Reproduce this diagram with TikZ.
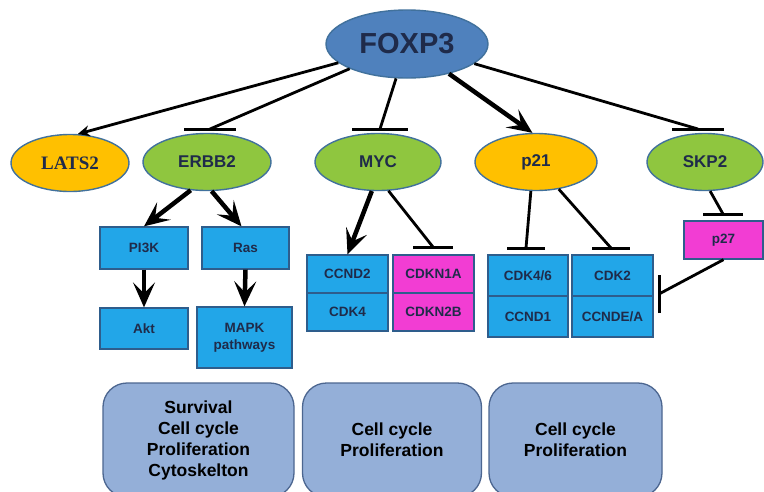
\documentclass[tikz,border=0pt]{standalone}
\usepackage{fontspec}
\setmainfont{Liberation Sans}
\newfontfamily\serifb{Liberation Serif}
\usetikzlibrary{arrows.meta,shapes.geometric}
\definecolor{foxblue}{HTML}{4F81BD}
\definecolor{ellborder}{HTML}{41719C}
\definecolor{leafgreen}{HTML}{8FC63F}
\definecolor{goldyel}{HTML}{FFC000}
\definecolor{boxblue}{HTML}{22A6E8}
\definecolor{boxborder}{HTML}{2E5D8C}
\definecolor{magent}{HTML}{F23DD3}
\definecolor{navytext}{HTML}{1F2B4A}
\definecolor{panelfill}{HTML}{94AFD8}
\definecolor{panelborder}{HTML}{4C6690}
\tikzset{
  ell/.style={ellipse, draw=ellborder, line width=1.4pt, inner sep=0pt, text=navytext},
  gene/.style={rectangle, draw=boxborder, line width=1.3pt, fill=boxblue, inner sep=1pt,
    text=navytext, font=\bfseries\fontsize{13.5}{17}\selectfont, align=center},
  panel/.style={rectangle, rounded corners=24pt, draw=panelborder, line width=1.3pt,
    fill=panelfill, text=black, font=\bfseries\fontsize{17.5}{21}\selectfont, align=center,
    minimum height=114pt},
  conn/.style={line width=2.8pt, black},
  thickarr/.style={line width=4.5pt, black, -{Stealth[length=25pt,width=22pt,inset=11pt]}},
  tbar/.style={line width=3pt, black},
}
\begin{document}
\begin{tikzpicture}[x=1pt,y=-1pt]
\useasboundingbox (0,0) rectangle (764,491);
\fill[white] (0,0) rectangle (764,491);
\clip (0,0) rectangle (764,491);

% top level
\node[ell, fill=foxblue, minimum width=162pt, minimum height=68pt,
      font=\bfseries\fontsize{29}{31}\selectfont] (foxp3) at (407,44) {FOXP3};
\node[ell, fill=goldyel, minimum width=118pt, minimum height=57pt,
      font=\serifb\bfseries\fontsize{19}{21}\selectfont] (lats2) at (70,163) {LATS2};
\node[ell, fill=leafgreen, minimum width=128pt, minimum height=57pt,
      font=\bfseries\fontsize{17}{19}\selectfont] (erbb2) at (207,162) {ERBB2};
\node[ell, fill=leafgreen, minimum width=126pt, minimum height=57pt,
      font=\bfseries\fontsize{17}{19}\selectfont] (myc) at (378,162) {MYC};
\node[ell, fill=goldyel, minimum width=122pt, minimum height=57pt,
      font=\bfseries\fontsize{17}{19}\selectfont] (p21) at (536,162) {p21};
\node[ell, fill=leafgreen, minimum width=116pt, minimum height=57pt,
      font=\bfseries\fontsize{17}{19}\selectfont] (skp2) at (705,162) {SKP2};

% gene boxes
\node[gene, minimum width=88pt, minimum height=42pt] (pi3k) at (144,248) {PI3K};
\node[gene, minimum width=87pt, minimum height=42pt] (ras) at (245.5,248) {Ras};
\node[gene, minimum width=88pt, minimum height=41pt] (akt) at (144,328.5) {Akt};
\node[gene, minimum width=95pt, minimum height=61pt] (mapk) at (244.5,337.5) {MAPK\\pathways};

\node[gene, minimum width=81pt, minimum height=38pt] (ccnd2) at (347.5,274) {CCND2};
\node[gene, minimum width=81pt, minimum height=38pt] (cdk4) at (347.5,312) {CDK4};
\node[gene, fill=magent, minimum width=81pt, minimum height=38pt] (cdkn1a) at (433.5,274) {CDKN1A};
\node[gene, fill=magent, minimum width=81pt, minimum height=38pt] (cdkn2b) at (433.5,312) {CDKN2B};

\node[gene, minimum width=80pt, minimum height=41pt] (cdk46) at (528,275.5) {CDK4/6};
\node[gene, minimum width=80pt, minimum height=41pt] (ccnd1) at (528,316.5) {CCND1};
\node[gene, minimum width=81pt, minimum height=41pt] (cdk2) at (612.5,275.5) {CDK2};
\node[gene, minimum width=81pt, minimum height=41pt] (ccndea) at (612.5,316.5) {CCNDE/A};

\node[gene, fill=magent, minimum width=79pt, minimum height=38pt] (p27) at (723.5,240) {p27};

% panels
\node[panel, minimum width=191pt] (pan1) at (198.5,440) {Survival\\Cell cycle\\Proliferation\\Cytoskelton};
\node[panel, minimum width=179pt] (pan2) at (392,440) {Cell cycle\\Proliferation};
\node[panel, minimum width=173pt] (pan3) at (575.5,440) {Cell cycle\\Proliferation};

% inhibition bar centres
\coordinate (bE) at (210,129);
\coordinate (bM) at (380,129);
\coordinate (bS) at (698,129);
\coordinate (b1a) at (433,247);
\coordinate (b46) at (526,248);
\coordinate (b2) at (611,248);
\coordinate (b27) at (723,214);
\coordinate (bG) at (659,294);

% FOXP3 connectors
\draw[conn, -{Stealth[length=12pt,width=11pt,inset=4pt]}] (foxp3) -- (lats2.75);
\draw[conn] (foxp3) -- (bE);
\draw[tbar] ([xshift=-26pt]bE) -- ([xshift=26pt]bE);
\draw[conn] (foxp3) -- (bM);
\draw[tbar] ([xshift=-28pt]bM) -- ([xshift=28pt]bM);
\draw[thickarr] (foxp3) -- (p21.97);
\draw[conn] (foxp3) -- (bS);
\draw[tbar] ([xshift=-26pt]bS) -- ([xshift=26pt]bS);

% ERBB2 branch
\draw[thickarr] (erbb2.240) -- (pi3k.north);
\draw[thickarr] (erbb2.279) -- ([xshift=-4pt]ras.north);
\draw[thickarr] (pi3k.south) -- (akt.north);
\draw[thickarr] (ras.south) -- (mapk.north);

% MYC branch
\draw[thickarr] (myc.258) -- (ccnd2.north);
\draw[conn] (myc.290) -- (b1a);
\draw[tbar] ([xshift=-20pt]b1a) -- ([xshift=20pt]b1a);

% p21 branch
\draw[conn] (p21.260) -- (b46);
\draw[tbar] ([xshift=-19pt]b46) -- ([xshift=19pt]b46);
\draw[conn] (p21.310) -- (b2);
\draw[tbar] ([xshift=-19pt]b2) -- ([xshift=19pt]b2);

% SKP2 branch
\draw[conn] (skp2.280) -- (b27);
\draw[tbar] ([xshift=-20pt]b27) -- ([xshift=20pt]b27);
\draw[conn] (p27.south) -- (bG);
\draw[tbar] ([yshift=-19pt]bG) -- ([yshift=19pt]bG);
\end{tikzpicture}
\end{document}
